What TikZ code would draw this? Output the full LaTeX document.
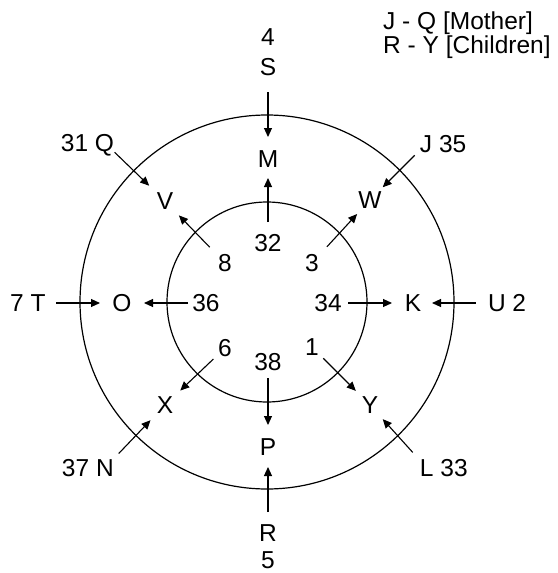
\documentclass[tikz,border=0pt]{standalone}
\usepackage{fontspec}
\setmainfont{Liberation Sans}
\usetikzlibrary{arrows.meta}

\begin{document}
\begin{tikzpicture}[x=1pt, y=-1pt,
    lbl/.style={inner sep=0pt, text height=17.5pt, text depth=0pt, font=\fontsize{24.5}{29}\selectfont},
    legend/.style={inner sep=0pt, align=left, font=\fontsize{24.5}{22}\selectfont},
    ring/.style={line width=1.2pt},
    arr/.style={line width=1.1pt, -{Triangle[length=9pt,width=8pt]}}]
    \useasboundingbox (0,0) rectangle (557,573);

    % --- rings ---
    \draw[ring] (267,302) circle (187pt);
    \draw[ring] (267,302) circle (100pt);

    % --- legend ---
    \node[legend, anchor=base west] (key) at (383,53.75) {J - Q [Mother]\\R - Y [Children]};

    % --- middle ring ---
    \node[lbl] (M) at (268,159) {M};
    \node[lbl] (W) at (370,200) {W};
    \node[lbl] (K) at (413,303) {K};
    \node[lbl] (Y) at (370,405) {Y};
    \node[lbl] (P) at (268,447) {P};
    \node[lbl] (X) at (165,405) {X};
    \node[lbl] (O) at (122,303) {O};
    \node[lbl] (V) at (165,201) {V};

    % --- inside ---
    \node[lbl] (n32) at (268,243) {32};
    \node[lbl] (n3) at (312,263) {3};
    \node[lbl] (n34) at (328,303) {34};
    \node[lbl] (n1) at (312,347) {1};
    \node[lbl] (n38) at (268,362) {38};
    \node[lbl] (n6) at (225,348) {6};
    \node[lbl] (n36) at (206,303) {36};
    \node[lbl] (n8) at (225,263) {8};

    % --- outside ---
    \node[lbl] (n4) at (268,37) {4};
    \node[lbl] (S) at (268,67) {S};
    \node[lbl] (J) at (426,144) {J};
    \node[lbl] (n35) at (452.7,144) {35};
    \node[lbl] (U) at (496.9,303) {U};
    \node[lbl] (n2) at (519.3,303) {2};
    \node[lbl] (L) at (426.8,468) {L};
    \node[lbl] (n33) at (454,468) {33};
    \node[lbl] (R) at (268,533) {R};
    \node[lbl] (n5) at (268,560) {5};
    \node[lbl] (N) at (104.9,468) {N};
    \node[lbl] (n37) at (75.6,468) {37};
    \node[lbl] (T) at (38.1,303) {T};
    \node[lbl] (n7) at (17,303) {7};
    \node[lbl] (Q) at (104.5,142.5) {Q};
    \node[lbl] (n31) at (74.6,142.5) {31};

    % --- arrows: from / to / gap at start / gap at tip ---
    \foreach \a/\b/\s/\e in {S/M/25/22, n32/M/21/19, J/W/16/18, n3/W/22/19,
                             Q/V/14/22, n8/V/22/20, T/O/18/22, n36/O/18/22,
                             n34/K/20/21, U/K/21/19, n6/X/16/21, N/X/20/21,
                             n38/P/16/22, R/P/21/20, n1/Y/16/20, L/Y/21/19} {
        \draw[arr, shorten <=\s pt, shorten >=\e pt] (\a.center) -- (\b.center);
    }
\end{tikzpicture}
\end{document}
